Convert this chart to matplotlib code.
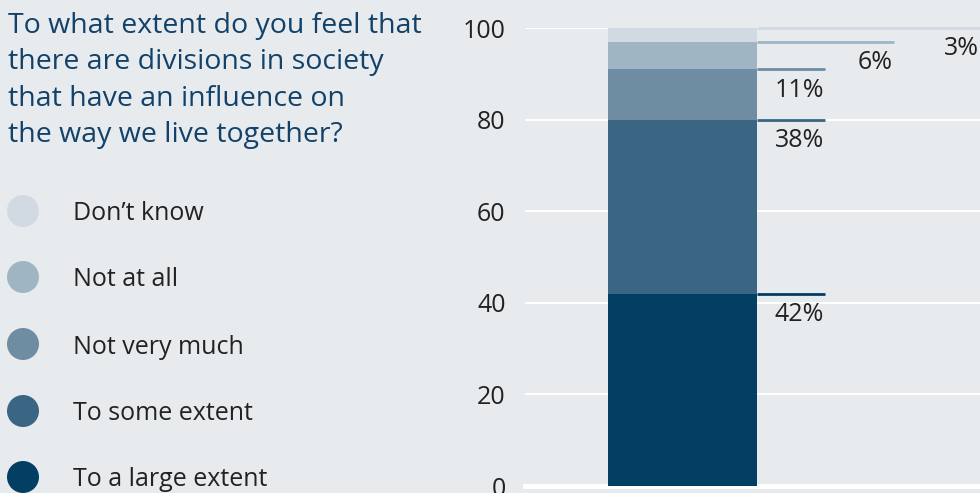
import matplotlib
matplotlib.use("Agg")
import matplotlib.pyplot as plt
from matplotlib.patches import Circle

# Data
categories = ["To a large extent", "To some extent", "Not very much", "Not at all", "Don\u2019t know"]
values = [42, 38, 11, 6, 3]
colors = ["#033e63", "#3a6583", "#6e8da3", "#a0b5c4", "#d1dae2"]
label_line_ends = [0.66, 0.66, 0.66, 0.81, 1.0]
yticks = [0, 20, 40, 60, 80, 100]
title = "To what extent do you feel that\nthere are divisions in society\nthat have an influence on\nthe way we live together?"

BG = "#e8ebee"
TXT = "#222222"
TITLE_C = "#12426a"
FONT = ["Open Sans", "DejaVu Sans"]
plt.rcParams["font.family"] = FONT

fig = plt.figure(figsize=(9.8, 4.93), dpi=100, facecolor=BG)
ax = fig.add_axes([525/980, 1-486/493, 455/980, (486-28)/493])
ax.set_facecolor(BG)
ax.set_xlim(0, 1)
ax.set_ylim(0, 100)

for t in yticks[1:]:
    ax.axhline(t, color="white", lw=1.5, zorder=0)
ax.axhline(0, color="white", lw=3.5, zorder=0, clip_on=False)

bar_x = 0.1824
bar_w = 0.51 - 0.1824
bottom = 0
for v, c, le in zip(values, colors, label_line_ends):
    ax.bar(bar_x, v, width=bar_w, bottom=bottom, color=c, align="edge", zorder=2, lw=0)
    top = bottom + v
    ax.plot([bar_x + bar_w, le], [top, top], color=c, lw=2, zorder=3, clip_on=False, solid_capstyle="butt")
    ax.annotate(f"{v}%", xy=(le, top), xytext=(-1, -6), textcoords="offset points",
                ha="right", va="top", fontsize=18, color=TXT, annotation_clip=False)
    bottom = top

ax.set_yticks(yticks)
ax.set_yticklabels([str(t) for t in yticks], fontsize=18, color=TXT)
ax.tick_params(axis="y", length=0, pad=14)
ax.set_xticks([])
for s in ax.spines.values():
    s.set_visible(False)

# Title
fig.text(8/980, 1-12/493, title, ha="left", va="top", fontsize=20.5, color=TITLE_C,
         linespacing=1.4)

# Legend
leg_y = [211, 277, 344, 411, 477]
for name, c, yy in zip(categories[::-1], colors[::-1], leg_y):
    fig.patches.append(Circle((23/100, (493-yy)/100), 0.16, transform=fig.dpi_scale_trans,
                              facecolor=c, edgecolor="none"))
    fig.text(73/980, 1-yy/493, name, ha="left", va="center_baseline", fontsize=18, color=TXT)

fig.savefig("out.png", dpi=100, facecolor=BG)
